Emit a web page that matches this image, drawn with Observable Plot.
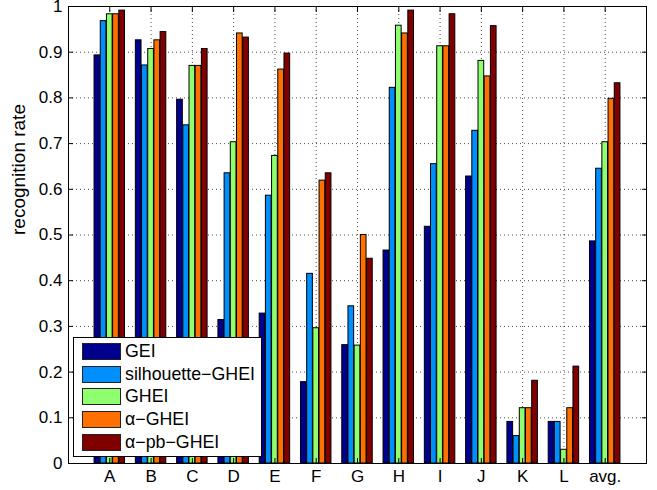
<!DOCTYPE html>
<html>
<head>
<meta charset="utf-8">
<script src="https://cdn.jsdelivr.net/npm/d3@7"></script>
<script src="https://cdn.jsdelivr.net/npm/@observablehq/plot@0.6"></script>
<style>
  html, body { margin: 0; padding: 0; background: #fff; overflow: hidden; }
  #wrap { position: relative; width: 657px; height: 490px; font-family: "Liberation Sans", Arial, Helvetica, sans-serif; }
  #legend { position: absolute; left: 73px; top: 337px; width: 187px; height: 118px; border: 1px solid #000; background: #fff; box-sizing: content-box; }
  .row { position: absolute; left: 8px; height: 17px; display: flex; align-items: center; }
  .sw { width: 39px; height: 17px; border: 1px solid #222; box-sizing: border-box; }
  .lab { margin-left: 4px; font-size: 17.8px; color: #000; white-space: nowrap; line-height: 17px; }
</style>
</head>
<body>
<div id="wrap"></div>
<script>
const groups = ["A","B","C","D","E","F","G","H","I","J","K","L","avg."];
const seriesNames = ["GEI","silhouette\u2212GHEI","GHEI","\u03b1\u2212GHEI","\u03b1\u2212pb\u2212GHEI"];
const seriesColors = ["#00008F","#008FFF","#8FFF70","#FF7000","#800000"];
const gei         = [0.893,0.926,0.796,0.314,0.328,0.178,0.259,0.466,0.518,0.628,0.091,0.091,0.486];
const silGhei     = [0.968,0.871,0.740,0.635,0.586,0.415,0.344,0.822,0.655,0.728,0.060,0.091,0.645];
const ghei        = [0.983,0.907,0.870,0.703,0.673,0.296,0.258,0.958,0.913,0.881,0.121,0.030,0.703];
const alphaGhei   = [0.983,0.926,0.870,0.941,0.862,0.619,0.500,0.941,0.913,0.847,0.121,0.121,0.798];
const alphaPbGhei = [0.991,0.944,0.907,0.932,0.897,0.635,0.448,0.991,0.983,0.957,0.181,0.212,0.832];
const yTicks      = [0,0.1,0.2,0.3,0.4,0.5,0.6,0.7,0.8,0.9,1];
const yTickLabels = ["0","0.1","0.2","0.3","0.4","0.5","0.6","0.7","0.8","0.9","1"];
const yLabel = "recognition rate";

const seriesValues = [gei, silGhei, ghei, alphaGhei, alphaPbGhei];
const groupWidth = 0.75;
const slot = groupWidth / seriesNames.length;
const rows = [];
seriesValues.forEach((vals, si) => {
  vals.forEach((v, gi) => {
    const left = (gi + 1) - groupWidth / 2 + si * slot;
    rows.push({group: groups[gi], series: seriesNames[si], value: v, x1: left + 0.006, x2: left + slot - 0.006});
  });
});
const xTicks = groups.map((g, i) => i + 1);
const font = 17;

const chart = Plot.plot({
  width: 657,
  height: 490,
  marginLeft: 68,
  marginRight: 11,
  marginTop: 6,
  marginBottom: 27,
  style: {fontFamily: '"Liberation Sans", Arial, Helvetica, sans-serif', fontSize: font + "px", background: "#fff", color: "#000", overflow: "visible"},
  x: {domain: [0, groups.length + 1], axis: null},
  y: {domain: [0, 1], axis: null},
  color: {domain: seriesNames, range: seriesColors},
  marks: [
    Plot.gridX({ticks: xTicks, stroke: "#000", strokeOpacity: 0.7, strokeDasharray: "1,3"}),
    Plot.gridY({ticks: yTicks, stroke: "#000", strokeOpacity: 0.7, strokeDasharray: "1,3"}),
    Plot.rect(rows, {x1: "x1", x2: "x2", y1: 0, y2: "value", fill: "series", stroke: "#000", strokeWidth: 1}),
    Plot.axisX({anchor: "bottom", ticks: xTicks, tickFormat: (d) => groups[d - 1], tickSize: -5, tickPadding: 11, fontSize: font, label: null}),
    Plot.axisX({anchor: "top", ticks: xTicks, tickFormat: () => "", tickSize: -5, label: null}),
    Plot.axisY({anchor: "left", ticks: yTicks, tickFormat: (d) => yTickLabels[yTicks.indexOf(d)], tickSize: -5, tickPadding: 11, fontSize: font, label: null}),
    Plot.axisY({anchor: "right", ticks: yTicks, tickFormat: () => "", tickSize: -5, label: null}),
    Plot.frame({stroke: "#000", strokeWidth: 1}),
    Plot.text([yLabel], {frameAnchor: "left", rotate: -90, dx: -50, fontSize: 19, text: (d) => d})
  ]
});

const wrap = document.getElementById("wrap");
wrap.appendChild(chart);

const legend = document.createElement("div");
legend.id = "legend";
seriesNames.forEach((name, i) => {
  const row = document.createElement("div");
  row.className = "row";
  row.style.top = (5 + i * 22.7) + "px";
  const sw = document.createElement("div");
  sw.className = "sw";
  sw.style.background = seriesColors[i];
  const lab = document.createElement("span");
  lab.className = "lab";
  lab.textContent = name;
  row.appendChild(sw);
  row.appendChild(lab);
  legend.appendChild(row);
});
wrap.appendChild(legend);
</script>
</body>
</html>
